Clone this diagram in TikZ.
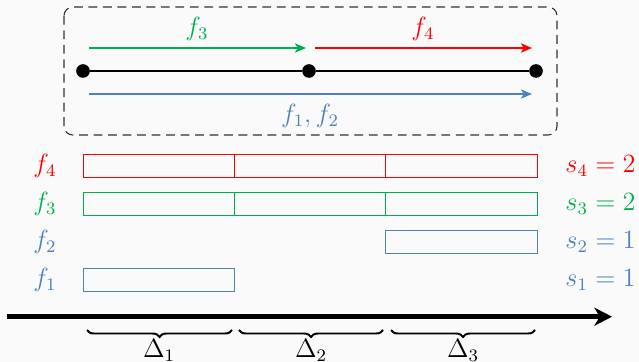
\documentclass[tikz,border=0pt]{standalone}
\usetikzlibrary{arrows.meta,decorations.pathreplacing}
\definecolor{fred}{RGB}{255,0,0}
\definecolor{fgreen}{RGB}{0,176,80}
\definecolor{fblue}{RGB}{79,129,189}
\definecolor{bgcol}{RGB}{250,250,250}
\begin{document}
\begin{tikzpicture}[x=0.016cm,y=-0.016cm, font=\large,
  seg/.style={draw=#1, line width=0.4pt},
  flow/.style={draw=#1, line width=0.9pt, -{Stealth[length=5pt,width=4.2pt,inset=1.2pt]}},
  lbl/.style={text=#1, inner sep=0pt},
  vertex/.style={circle, fill=black, inner sep=0pt, minimum size=6.2pt},
  timebrace/.style={decorate, decoration={brace, mirror, amplitude=3.2pt}, line width=0.9pt}
]
% canvas
\fill[bgcol] (0,0) rectangle (639,362);
\useasboundingbox (0,0) rectangle (639,362);

% path with its three vertices
\draw[line width=0.5pt, draw=black!80, dash pattern=on 4pt off 2.6pt, rounded corners=4pt]
  (64,7) rectangle (557,135);
\node[vertex] (v1) at (83,71) {};
\node[vertex] (v2) at (309,71) {};
\node[vertex] (v3) at (536,71) {};
\draw[line width=1pt] (v1) -- (v2) -- (v3);

% flows routed over the path
\coordinate (g0) at (89,48);  \coordinate (g1) at (306,48);
\coordinate (r0) at (315,48); \coordinate (r1) at (532,48);
\coordinate (b0) at (89,94);  \coordinate (b1) at (532,94);
\draw[flow=fgreen] (g0) -- (g1);
\draw[flow=fred] (r0) -- (r1);
\draw[flow=fblue] (b0) -- (b1);
\node[lbl=fgreen] (lf3) at (197,29) {$f_3$};
\node[lbl=fred] (lf4) at (423,29) {$f_4$};
\node[lbl=fblue] (lf12) at (310,116) {$f_1, f_2$};

% slot occupancy per flow
\draw[seg=fred] (83,154) rectangle (234,177);
\draw[seg=fred] (234,154) rectangle (385,177);
\draw[seg=fred] (385,154) rectangle (537,177);
\draw[seg=fgreen] (83,192) rectangle (234,215);
\draw[seg=fgreen] (234,192) rectangle (385,215);
\draw[seg=fgreen] (385,192) rectangle (537,215);
\draw[seg=fblue] (385,230) rectangle (537,253);
\draw[seg=fblue] (83,268) rectangle (234,291);

\node[lbl=fred]   (n4) at (45,166) {$f_4$};
\node[lbl=fgreen] (n3) at (45,204) {$f_3$};
\node[lbl=fblue]  (n2) at (45,242) {$f_2$};
\node[lbl=fblue]  (n1) at (45,280) {$f_1$};

\node[lbl=fred,   anchor=west] (s4) at (565,166) {$s_4 = 2$};
\node[lbl=fgreen, anchor=west] (s3) at (565,204) {$s_3 = 2$};
\node[lbl=fblue,  anchor=west] (s2) at (565,242) {$s_2 = 1$};
\node[lbl=fblue,  anchor=west] (s1) at (565,280) {$s_1 = 1$};

% time axis and intervals
\coordinate (t0) at (7,316.7);
\coordinate (t1) at (612,316.7);
\draw[line width=2.3pt, -{Stealth[length=8pt,width=8.2pt,inset=2.4pt]}] (t0) -- (t1);

\coordinate (d1a) at (87,330);  \coordinate (d1b) at (232,330);
\coordinate (d2a) at (239,330); \coordinate (d2b) at (383,330);
\coordinate (d3a) at (391,330); \coordinate (d3b) at (535,330);
\draw[timebrace] (d1a) -- (d1b);
\draw[timebrace] (d2a) -- (d2b);
\draw[timebrace] (d3a) -- (d3b);
\node[inner sep=0pt] (D1) at (159,350.5) {$\Delta_1$};
\node[inner sep=0pt] (D2) at (311,350.5) {$\Delta_2$};
\node[inner sep=0pt] (D3) at (463,350.5) {$\Delta_3$};
\end{tikzpicture}
\end{document}
